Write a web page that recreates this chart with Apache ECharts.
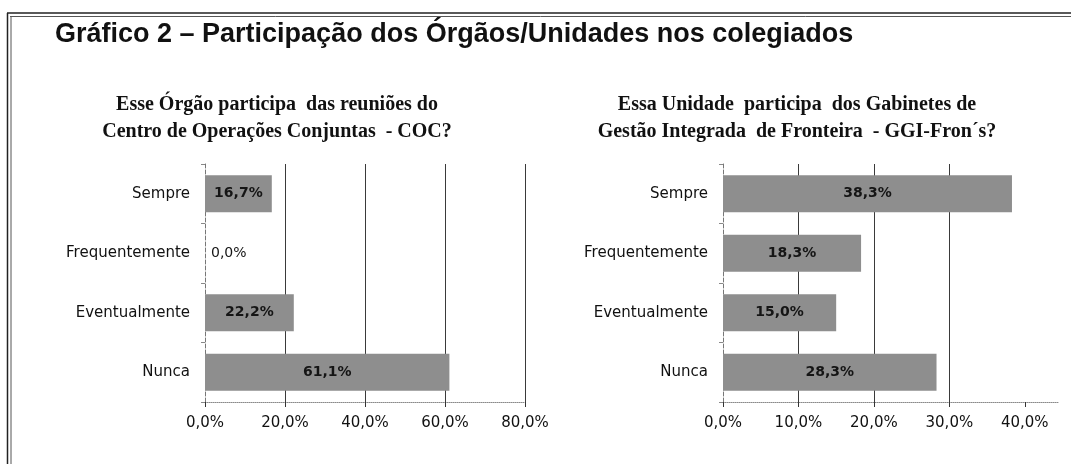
<!DOCTYPE html>
<html>
<head>
<meta charset="utf-8">
<script src="https://cdn.jsdelivr.net/npm/echarts@6/dist/echarts.min.js"></script>
<style>
  html, body { margin: 0; padding: 0; background: #fff; }
  #chart { width: 1071px; height: 464px; }
</style>
</head>
<body>
<div id="chart"></div>
<script>
// dados
const categories = ['Sempre', 'Frequentemente', 'Eventualmente', 'Nunca'];
const cocValues = [16.7, 0.0, 22.2, 61.1];
const ggiValues = [38.3, 18.3, 15.0, 28.3];
const cocTicks = [0, 20, 40, 60, 80];
const ggiTicks = [0, 10, 20, 30, 40];

const mainTitle = 'Gráfico 2 – Participação dos Órgãos/Unidades nos colegiados';
const cocTitle = ['Esse Órgão participa  das reuniões do', 'Centro de Operações Conjuntas  - COC?'];
const ggiTitle = ['Essa Unidade  participa  dos Gabinetes de', 'Gestão Integrada  de Fronteira  - GGI-Fron´s?'];

const pct = v => v.toFixed(1).replace('.', ',') + '%';

function barData(values) {
    // rótulo de 0,0% fica fora da barra
    return values.map(v => v === 0
        ? {
            value: v,
            label: {
                position: 'right', distance: 6, fontWeight: 'normal',
                fontFamily: 'DejaVu Sans', fontSize: 14, color: '#151515'
            }
        }
        : v);
}

function valueAxis(gridIndex, ticks, max) {
    const last = ticks[ticks.length - 1];
    return {
        type: 'value',
        gridIndex: gridIndex,
        min: 0,
        max: max,
        interval: ticks[1] - ticks[0],
        axisLine: { show: true, lineStyle: { color: '#8a8a8a', type: 'dotted', width: 1 } },
        axisTick: { show: true, length: 5, customValues: ticks, lineStyle: { color: '#333' } },
        axisLabel: {
            customValues: ticks,
            formatter: pct,
            margin: 14,
            color: '#111',
            fontFamily: 'DejaVu Sans',
            fontSize: 15
        },
        splitLine: {
            show: true,
            showMinLine: false,
            showMaxLine: max === last,
            lineStyle: { color: '#3a3a3a', width: 1 }
        }
    };
}

function categoryAxis(gridIndex) {
    return {
        type: 'category',
        gridIndex: gridIndex,
        data: categories,
        inverse: true,
        axisLine: { show: true, lineStyle: { color: '#777', type: 'dashed', width: 1 } },
        axisTick: { show: true, length: 4, lineStyle: { color: '#888' } },
        axisLabel: {
            margin: 15,
            color: '#111',
            fontFamily: 'DejaVu Sans',
            fontSize: 15
        }
    };
}

function barSeries(idx, values) {
    return {
        type: 'bar',
        xAxisIndex: idx,
        yAxisIndex: idx,
        data: barData(values),
        barCategoryGap: '38%',
        itemStyle: { color: '#8e8e8e' },
        label: {
            show: true,
            position: 'inside',
            formatter: p => pct(p.value),
            color: '#151515',
            fontFamily: 'DejaVu Sans',
            fontWeight: 'bold',
            fontSize: 14
        },
        silent: true
    };
}

function textEl(x, y, str, font, align) {
    return {
        type: 'text',
        x: x,
        y: y,
        style: {
            text: str,
            font: font,
            fill: '#111',
            textAlign: align,
            textVerticalAlign: 'middle'
        }
    };
}

function lineEl(x1, y1, x2, y2, color, w) {
    return {
        type: 'line',
        shape: { x1: x1, y1: y1, x2: x2, y2: y2 },
        style: { stroke: color, lineWidth: w }
    };
}

const serif = 'bold 20px "Liberation Serif"';

const chart = echarts.init(document.getElementById('chart'));
chart.setOption({
    backgroundColor: '#fff',
    animation: false,
    grid: [
        { left: 205, top: 164, width: 320, height: 238 },
        { left: 723, top: 164, width: 335, height: 238 }
    ],
    xAxis: [valueAxis(0, cocTicks, 80), valueAxis(1, ggiTicks, 44.4)],
    yAxis: [categoryAxis(0), categoryAxis(1)],
    series: [barSeries(0, cocValues), barSeries(1, ggiValues)],
    graphic: [
        // moldura (linhas duplas superior e esquerda)
        lineEl(7, 13, 1071, 13, '#222', 1.5),
        lineEl(10, 16.5, 1071, 16.5, '#555', 1),
        lineEl(7.5, 13, 7.5, 464, '#222', 1.5),
        lineEl(11, 16.5, 11, 464, '#555', 1),
        textEl(55, 35, mainTitle, 'bold 27px "Liberation Sans"', 'left'),
        textEl(277, 105, cocTitle[0], serif, 'center'),
        textEl(277, 132, cocTitle[1], serif, 'center'),
        textEl(797, 105, ggiTitle[0], serif, 'center'),
        textEl(797, 132, ggiTitle[1], serif, 'center')
    ]
});
</script>
</body>
</html>
